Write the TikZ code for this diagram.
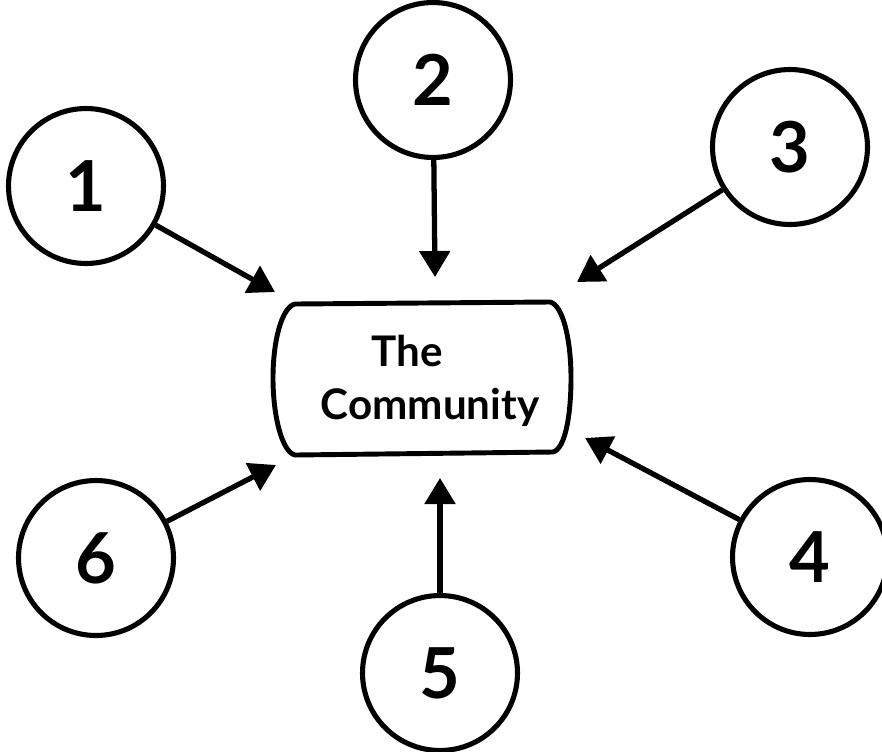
\documentclass[tikz,border=0pt]{standalone}
\usepackage{fontspec}
\setmainfont{Lato}
\usetikzlibrary{arrows.meta}
\begin{document}
\begin{tikzpicture}[x=0.02cm,y=-0.02cm,
  numcircle/.style={circle,draw,line width=2.9pt,minimum size=3.1cm,inner sep=0pt,
                    font=\fontsize{40}{40}\selectfont\bfseries},
  feed/.style={line width=3pt,-{Triangle[length=0.52cm,width=0.6cm]}},
  outline/.style={line width=2.8pt,line join=round}]
\useasboundingbox (0,0) rectangle (882,751);

% contributing circles
\node[numcircle] (c1) at (86,186)  {1};
\node[numcircle] (c2) at (433,80)  {2};
\node[numcircle] (c3) at (790,147) {3};
\node[numcircle] (c4) at (810,557) {4};
\node[numcircle] (c5) at (440,673) {5};
\node[numcircle] (c6) at (96,558)  {6};

% central box
\node[align=center,inner sep=0pt,font=\fontsize{24}{30}\selectfont\bfseries] (box) at (430,381)
  {\hspace*{-0.9cm}The\\Community};
\draw[outline] (295,304) -- (550,302)
  .. controls (563,305) and (571,340) .. (571,378)
  .. controls (571,416) and (565,449) .. (553,452)
  -- (295,455)
  .. controls (282,452) and (273,416) .. (273,378)
  .. controls (273,340) and (282,307) .. (295,304) -- cycle;

% arrow tips, just short of the box
\coordinate (t1) at (275,292);
\coordinate (t2) at (435,277);
\coordinate (t3) at (577,282);
\coordinate (t4) at (585,438);
\coordinate (t5) at (440,478);
\coordinate (t6) at (276,465);

\draw[feed] (c1) -- (t1);
\draw[feed] (c2) -- (t2);
\draw[feed] (c3) -- (t3);
\draw[feed] (c4) -- (t4);
\draw[feed] (c5) -- (t5);
\draw[feed] (c6) -- (t6);
\end{tikzpicture}
\end{document}
